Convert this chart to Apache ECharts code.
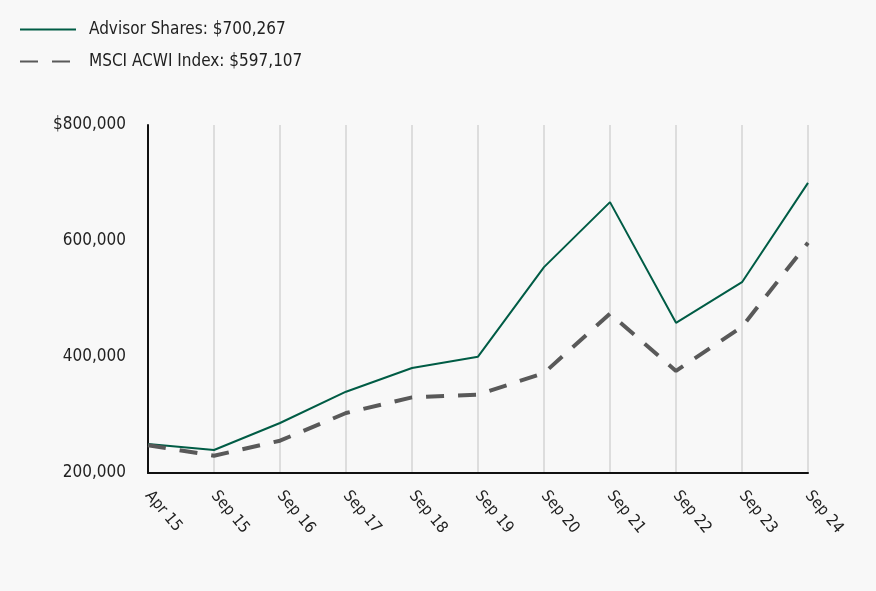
<!DOCTYPE html>
<html><head><meta charset="utf-8">
<script src="https://cdn.jsdelivr.net/npm/echarts@6/dist/echarts.min.js"></script>
<style>html,body{margin:0;padding:0;background:#f8f8f8}#c{width:876px;height:591px}</style>
</head><body><div id="c"></div>
<script>
const categories = ["Apr 15","Sep 15","Sep 16","Sep 17","Sep 18","Sep 19","Sep 20","Sep 21","Sep 22","Sep 23","Sep 24"];
const advisorName = "Advisor Shares: $700,267";
const advisorValues = [250000,239700,286200,340200,381000,400500,555000,667000,459000,529000,700267];
const msciName = "MSCI ACWI Index: $597,107";
const msciValues = [248000,229800,255700,303400,330300,335000,372400,474600,376000,452000,597107];

const font = '"DejaVu Sans Condensed","DejaVu Sans",sans-serif';
const fs = 'condensed';
const chart = echarts.init(document.getElementById('c'));
chart.setOption({
  backgroundColor:'#f8f8f8',
  animation:false,
  textStyle:{fontFamily:font,fontStyle:fs},
  legend:{
    orient:'vertical', left:14, top:16, itemWidth:56, itemHeight:14, itemGap:15,
    itemStyle:{opacity:0},
    textStyle:{fontFamily:font,fontStyle:fs,fontSize:17,color:'#222',padding:[0,0,0,8]},
    data:[advisorName,msciName]
  },
  grid:{left:148,right:68,top:125,bottom:118},
  xAxis:{
    type:'category', data:categories, boundaryGap:false,
    axisLine:{lineStyle:{color:'#111',width:2}},
    axisTick:{show:false},
    axisLabel:{rotate:-50,fontFamily:font,fontStyle:fs,fontSize:16,color:'#222',margin:20},
    splitLine:{show:true,lineStyle:{color:'#dddddd',width:2}}
  },
  yAxis:{
    type:'value', min:200000, max:800000, interval:200000,
    axisLine:{show:true,lineStyle:{color:'#111',width:2}},
    axisTick:{show:false},
    splitLine:{show:false},
    axisLabel:{fontFamily:font,fontStyle:fs,fontSize:17,color:'#222',margin:22,
      formatter:v=>(v===800000?'$':'')+v.toLocaleString('en-US')}
  },
  series:[
    {name:advisorName,type:'line',data:advisorValues,symbol:'none',
     lineStyle:{color:'#005c45',width:2},itemStyle:{color:'#005c45'}},
    {name:msciName,type:'line',data:msciValues,symbol:'none',
     lineStyle:{color:'#595959',width:4,type:[18,14]},itemStyle:{color:'#595959'}}
  ]
});
</script></body></html>
